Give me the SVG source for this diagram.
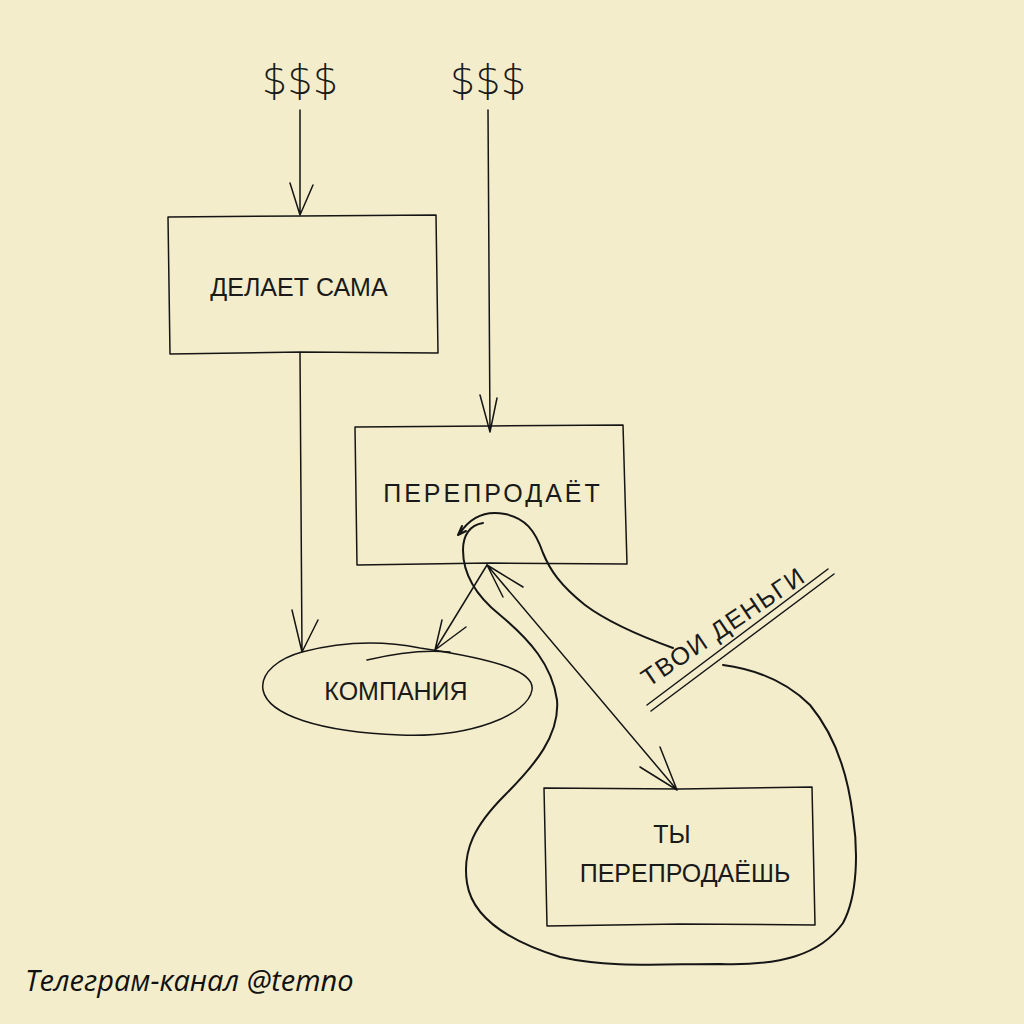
<svg xmlns="http://www.w3.org/2000/svg" width="1024" height="1024" viewBox="0 0 1024 1024">
<defs>
<style>
.ln{fill:none;stroke:#151515;stroke-width:1.5;stroke-linecap:round;stroke-linejoin:round}
.bold{fill:none;stroke:#151515;stroke-width:2;stroke-linecap:round;stroke-linejoin:round}
.lbl{font-family:"Liberation Sans",Arial,sans-serif;font-size:25px;fill:#1a1a1a;text-anchor:middle}
.dol{font-family:"DejaVu Sans","Liberation Sans",sans-serif;font-weight:200;font-size:40px;fill:#1a1a1a;text-anchor:middle}
.foot{font-family:"Open Sans","Noto Sans",sans-serif;font-style:italic;font-size:29px;fill:#111}
</style>
</defs>
<rect width="1024" height="1024" fill="#F3EDCB"/>
<g id="money-left"><text class="dol" x="300" y="94">$$$</text></g>
<g id="money-right"><text class="dol" x="488" y="94">$$$</text></g>
<g id="box-self">
<path class="ln" d="M168,217 L300,216 L436,215 L438,353 L300,352 L170,354 Z"/>
<text class="lbl" x="299" y="296">ДЕЛАЕТ САМА</text>
</g>
<g id="box-resell">
<path class="ln" d="M355,427 L490,426 L623,425 L627,564 L490,563 L357,565 Z"/>
<text class="lbl" x="493" y="502" letter-spacing="3">ПЕРЕПРОДАЁТ</text>
</g>
<g id="company">
<path class="ln" d="M302,652 C340,642 380,640 420,648 C500,660 535,672 532,690 C528,715 470,738 400,735 C320,732 268,715 263,690 C260,672 280,658 302,652"/>
<path class="ln" d="M367,660 C400,652 430,650 450,652"/>
<text class="lbl" x="396" y="700">КОМПАНИЯ</text>
</g>
<g id="box-you">
<path class="ln" d="M544,788 L680,789 L812,787 L815,925 L680,924 L547,926 Z"/>
<text class="lbl" x="672" y="843">ТЫ</text>
<text class="lbl" x="685" y="882">ПЕРЕПРОДАЁШЬ</text>
</g>
<g id="your-money">
<text class="lbl" transform="translate(728,634) rotate(-34)" x="0" y="0" font-size="28" letter-spacing="1.5">ТВОИ ДЕНЬГИ</text>
<path class="ln" d="M647,705 L828,569"/>
<path class="ln" d="M651,711 L834,574"/>
</g>
<g id="connectors">
<path class="ln" d="M300,110 L300,215 M290,183 L300,215 L313,185"/>
<path class="ln" d="M488,110 L490,432 M480,395 L490,432 L497,398"/>
<path class="ln" d="M300,353 L302,652 M292,610 L302,652 L318,620"/>
<path class="ln" d="M487,565 L435,650 M442,620 L435,650 L466,627"/>
<path class="ln" d="M487,565 L677,790 M503,597 L487,565 L523,587 M640,767 L677,790 L660,747"/>
<path class="bold" d="M673,648 C640,636 605,620 585,605 C560,585 550,570 543,553 C535,530 525,518 505,514 C485,510 470,518 460,533 M458,535 L462,526 M458,535 L466,531"/>
<path class="bold" d="M483,523 C470,525 463,535 463,550 C463,572 475,595 500,615 C530,640 552,665 557,700 C560,735 535,765 505,795 C475,825 462,850 467,883 C472,915 505,940 560,957 C610,968 660,964 720,964 C780,966 820,955 843,923 C858,895 858,850 853,817 C848,775 835,735 810,705 C790,685 760,670 723,665"/>
</g>
<text class="foot" x="25" y="991">Телеграм-канал @temno</text>
</svg>
